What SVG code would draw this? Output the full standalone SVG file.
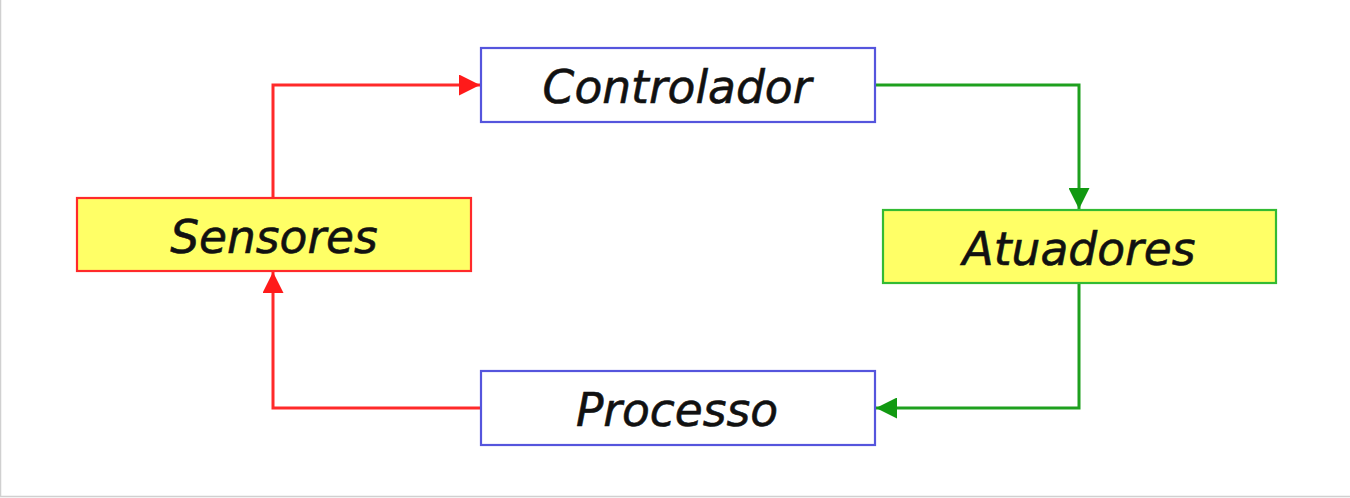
<svg xmlns="http://www.w3.org/2000/svg" width="1350" height="498" viewBox="0 0 1350 498">
<defs>
<style>
.lbl{font-family:"DejaVu Sans",Verdana,sans-serif;font-style:italic;font-size:45.5px;fill:#111;stroke:#111;stroke-width:0.6;text-anchor:middle}
.blue{fill:#fff;stroke:#5555dd;stroke-width:2.2}
.yr{fill:#ffff66;stroke:#ff2a2a;stroke-width:2.2}
.yg{fill:#ffff66;stroke:#33bb33;stroke-width:2.2}
.r{fill:none;stroke:#ff2a2a;stroke-width:3}
.g{fill:none;stroke:#1ea01e;stroke-width:3}
</style>
<marker id="ar" viewBox="0 0 10 10" refX="10" refY="5" markerWidth="7" markerHeight="7" markerUnits="strokeWidth" orient="auto"><path d="M0,0 L10,5 L0,10 Z" fill="#ff1a1a"/></marker>
<marker id="ag" viewBox="0 0 10 10" refX="10" refY="5" markerWidth="7" markerHeight="7" markerUnits="strokeWidth" orient="auto"><path d="M0,0 L10,5 L0,10 Z" fill="#119911"/></marker>
</defs>
<rect x="0" y="0" width="1350" height="498" fill="#fff"/>
<path d="M0.5,0 V496.5 H1350" fill="none" stroke="#d0d0d0" stroke-width="1.5"/>
<g id="connectors">
<path class="r" d="M273,197 V85 H480" marker-end="url(#ar)"/>
<path class="g" d="M876,85 H1079 V209" marker-end="url(#ag)"/>
<path class="g" d="M1079,284 V408 H876" marker-end="url(#ag)"/>
<path class="r" d="M480,408 H273 V272" marker-end="url(#ar)"/>
</g>
<g id="controlador"><rect class="blue" x="481" y="48" width="394" height="74"/><text class="lbl" x="677" y="103">Controlador</text></g>
<g id="sensores"><rect class="yr" x="77" y="198" width="394" height="73"/><text class="lbl" x="274" y="253">Sensores</text></g>
<g id="atuadores"><rect class="yg" x="883" y="210" width="393" height="73"/><text class="lbl" x="1079" y="265">Atuadores</text></g>
<g id="processo"><rect class="blue" x="481" y="371" width="394" height="74"/><text class="lbl" x="677" y="426">Processo</text></g>
</svg>
